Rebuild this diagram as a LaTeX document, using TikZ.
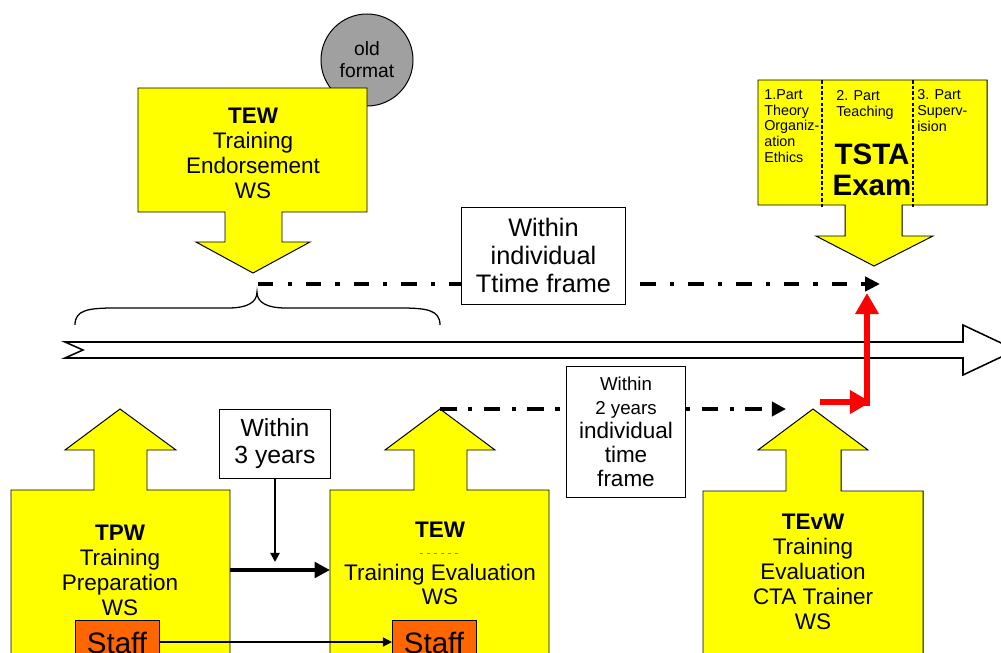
\documentclass[tikz,border=0pt]{standalone}
\usepackage{fontspec}
\setmainfont{Liberation Sans}
\usetikzlibrary{arrows.meta}
\definecolor{callyel}{RGB}{255,255,0}
\definecolor{oldgray}{RGB}{160,160,160}
\definecolor{staffor}{RGB}{255,102,0}
\definecolor{redarr}{RGB}{255,0,0}
\tikzset{
  callout/.style={fill=callyel, draw=black, line width=0.7pt},
  lbl/.style={align=center, inner sep=0pt, font=\fontsize{16}{17.7}\selectfont},
  parttext/.style={align=left, inner sep=0pt, anchor=north west, font=\fontsize{10.2}{11.3}\selectfont},
  partline/.style={line width=1pt, dash pattern=on 2.5pt off 1.5pt},
  timebox/.style={draw, fill=white, align=center, inner sep=0pt, line width=0.7pt},
  staffbox/.style={draw, fill=staffor, inner sep=0pt, minimum width=2.1cm, minimum height=1.15cm, font=\fontsize{21}{24}\selectfont},
  dashdot/.style={line width=3.5pt, dash pattern=on 11pt off 10pt on 3pt off 10pt, -{Triangle[length=10.5pt,width=10pt]}},
  dashdotlow/.style={line width=3pt, dash pattern=on 12pt off 8pt on 3pt off 8pt, -{Triangle[length=10pt,width=10pt]}},
  thinarrow/.style={line width=1pt, -{Triangle[length=6.5pt,width=6.5pt]}},
  thickarrow/.style={line width=3.5pt, -{Triangle[length=11pt,width=11pt]}},
  redarrow/.style={draw=redarr, line width=4.3pt, -{Triangle[length=15pt,width=16pt]}}
}

\begin{document}
\begin{tikzpicture}[x=0.025cm,y=-0.025cm]
	\useasboundingbox (0,0) rectangle (1001,652);
	% time line
	\filldraw[fill=white, line width=1.1pt] (65,342)--(963,342)--(963,325)--(1016,350)--(963,375)--(963,358)--(65,358)--(83,350)--cycle;
	% brace
	\draw[line width=0.9pt] (75,325) .. controls (75,310) and (88,308) .. (115,308) -- (228,308) .. controls (248,308) and (257,302) .. (257,292) .. controls (257,302) and (266,308) .. (286,308) -- (400,308) .. controls (427,308) and (440,310) .. (440,325);

	% old format
	\node[circle, draw, fill=oldgray, line width=0.7pt, minimum size=2.3cm, align=center, inner sep=0pt, font=\fontsize{13.7}{15.6}\selectfont] (oldfmt) at (367,60) {old\\format};
	% top TEW
	\filldraw[callout] (138,88)--(367,88)--(367,212)--(282,212)--(282,242)--(310,242)--(253,273)--(196,242)--(225,242)--(225,212)--(138,212)--cycle;
	\node[lbl] (tewtop) at (253,153.5) {\textbf{TEW}\\Training\\Endorsement\\WS};

	% TSTA exam
	\filldraw[callout] (758,80)--(987,80)--(987,205)--(902,205)--(902,236)--(933,236)--(874,266)--(816,236)--(845,236)--(845,205)--(758,205)--cycle;
	\draw[partline] (822,80)--(822,207);
	\draw[partline] (913,80)--(913,207);
	\node[parttext] (partone) at (764,89) {1.Part\\Theory\\Organiz-\\ation\\Ethics};
	\node[parttext] (parttwo) at (836,90) {2. Part\\Teaching};
	\node[parttext] (partthree) at (917,89) {3. Part\\Superv-\\ision};
	\node[lbl, font=\bfseries\fontsize{21}{22}\selectfont] (tsta) at (872,170) {TSTA\\Exam};

	% bottom callouts
	\filldraw[callout] (11,670)--(11,490)--(94,490)--(94,450)--(65,450)--(120,409)--(176,450)--(147,450)--(147,490)--(230,490)--(230,670);
	\filldraw[callout] (330,670)--(330,490)--(414,490)--(414,450)--(385,450)--(440,409)--(495,450)--(467,450)--(467,490)--(549,490)--(549,670);
	\filldraw[callout] (703,670)--(703,491)--(786,491)--(786,450)--(758,450)--(813,409)--(868,450)--(841,450)--(841,491)--(923,491)--(923,670);
	\node[lbl] (tpw) at (120,570.5) {\textbf{TPW}\\Training\\Preparation\\WS};
	\node[lbl] (tewlow) at (440,530) {\textbf{TEW}};
	\draw[gray, line width=0.6pt, dash pattern=on 2pt off 3pt] (420,553)--(461,553);
	\node[lbl] (tewtext) at (440,584.5) {Training Evaluation\\WS};
	\node[lbl] (tevw) at (813,572) {\textbf{TEvW}\\Training\\Evaluation\\CTA Trainer\\WS};
	\node[staffbox] (staffprep) at (117,643) {Staff};
	\node[staffbox] (staffeval) at (434,643) {Staff};

	% time frames
	\coordinate (framestart) at (258,284);
	\coordinate (examin) at (880,284);
	\draw[dashdot] (framestart)--(examin);
	\node[timebox, minimum width=4.075cm, minimum height=2.425cm, font=\fontsize{18}{20}\selectfont] (withinind) at (543.5,255.5) {Within\\individual\\Ttime frame};

	\coordinate (tewtip) at (440,409);
	\coordinate (tevwin) at (786,409);
	\draw[dashdotlow] (tewtip)--(tevwin);
	\node[timebox, minimum width=2.95cm, minimum height=3.25cm, font=\fontsize{16}{17}\selectfont] (withintwo) at (626,432) {{\fontsize{13.3}{15}\selectfont Within}\\{\fontsize{13.3}{15}\selectfont 2 years}\\individual\\time\\frame};

	\node[timebox, minimum width=2.75cm, minimum height=1.725cm, font=\fontsize{17.6}{19.5}\selectfont] (withinthree) at (275,443.5) {Within\\3 years};
	\coordinate (threeend) at (275,562);
	\draw[thinarrow, line width=1.4pt] (withinthree.south)--(threeend);

	\coordinate (tpwedge) at (230,570);
	\coordinate (tewedge) at (330,570);
	\draw[thickarrow] (tpwedge)--(tewedge);
	\coordinate (staffline) at (392,642);
	\draw[thinarrow] (staffprep.east |- staffline)--(staffline);

	% to the exam
	\coordinate (redstart) at (820,402);
	\coordinate (redcorner) at (871,402);
	\coordinate (redfoot) at (867,406);
	\coordinate (examfoot) at (867,293);
	\draw[redarrow] (redfoot)--(examfoot);
	\draw[redarrow] (redstart)--(redcorner);
\end{tikzpicture}
\end{document}
